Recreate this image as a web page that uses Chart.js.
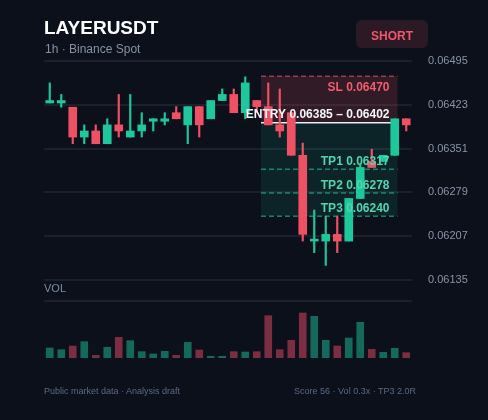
<!DOCTYPE html>
<html>
<head>
<meta charset="utf-8">
<script src="https://cdn.jsdelivr.net/npm/chart.js@4.4.1/dist/chart.umd.min.js"></script>
<style>
html,body{margin:0;padding:0;background:#0b101a;}
#wrap{position:relative;width:488px;height:420px;background:#0b101a;overflow:hidden;font-family:"Liberation Sans",Arial,sans-serif;}
#c{position:absolute;left:0;top:0;}
.t{position:absolute;white-space:nowrap;line-height:1;}
#title{left:44px;top:17.9px;font-size:19px;font-weight:bold;color:#ffffff;}
#sub{left:45px;top:42.5px;font-size:12px;color:#8691a3;}
#badge{position:absolute;left:356px;top:20px;width:72px;height:28px;border-radius:6px;background:#2b1a25;}
#badgeT{left:356px;width:72px;text-align:center;top:29.8px;font-size:12px;font-weight:bold;color:#f2566b;}
#vol{left:44px;top:283.4px;font-size:11px;color:#7f8ca3;}
#fl{left:44px;top:386.7px;font-size:9px;color:#5a6a84;}
#fr{right:72px;top:386.7px;font-size:9px;color:#5a6a84;}
</style>
</head>
<body>
<div id="wrap">
  <canvas id="c" width="488" height="420"></canvas>
  <div class="t" id="title">LAYERUSDT</div>
  <div class="t" id="sub">1h · Binance Spot</div>
  <div id="badge"></div>
  <div class="t" id="badgeT">SHORT</div>
  <div class="t" id="vol">VOL</div>
  <div class="t" id="fl">Public market data · Analysis draft</div>
  <div class="t" id="fr">Score 56 · Vol 0.3x · TP3 2.0R</div>
</div>
<script>
// ---- data ----
const LABELS = ['02:00','03:00','04:00','05:00','06:00','07:00','08:00','09:00',
  '10:00','11:00','12:00','13:00','14:00','15:00','16:00','17:00',
  '18:00','19:00','20:00','21:00','22:00','23:00','00:00','01:00',
  '02:00','03:00','04:00','05:00','06:00','07:00','08:00','09:00'];
const OPEN  = [0.06426,0.06426,0.06419,0.06370,0.06380,0.06359,0.06390,0.06370,
  0.06380,0.06396,0.06396,0.06410,0.06390,0.06420,0.06400,0.06430,
  0.06440,0.06410,0.06430,0.06420,0.06390,0.06410,0.06340,0.06199,
  0.06199,0.06210,0.06199,0.06269,0.06330,0.06330,0.06340,0.06400];
const HIGH  = [0.06459,0.06440,0.06419,0.06390,0.06390,0.06400,0.06440,0.06440,
  0.06410,0.06400,0.06410,0.06420,0.06420,0.06420,0.06430,0.06449,
  0.06449,0.06469,0.06430,0.06459,0.06449,0.06410,0.06360,0.06250,
  0.06240,0.06240,0.06269,0.06325,0.06350,0.06340,0.06400,0.06400];
const LOW   = [0.06426,0.06419,0.06359,0.06359,0.06359,0.06359,0.06370,0.06370,
  0.06370,0.06380,0.06390,0.06400,0.06359,0.06370,0.06400,0.06430,
  0.06410,0.06400,0.06410,0.06390,0.06370,0.06340,0.06199,0.06180,
  0.06159,0.06180,0.06199,0.06269,0.06320,0.06330,0.06340,0.06380];
const CLOSE = [0.06430,0.06430,0.06370,0.06380,0.06359,0.06390,0.06380,0.06380,
  0.06390,0.06400,0.06400,0.06400,0.06420,0.06390,0.06430,0.06440,
  0.06410,0.06459,0.06420,0.06390,0.06380,0.06340,0.06210,0.06201,
  0.06210,0.06199,0.06269,0.06320,0.06320,0.06340,0.06400,0.06390];
const VOLUME = [300,250,360,490,80,320,620,520,190,120,200,80,470,240,50,50,
  190,180,190,1270,250,530,1350,1250,530,360,600,1070,260,170,290,160];
const PRICE_TICKS = [0.06135,0.06207,0.06279,0.06351,0.06423,0.06495];
const PRICE_MIN = 0.06135, PRICE_MAX = 0.06495;
const VOL_MAX = 2340, VOL_GUIDE = 1710;
const SL = 0.06470;
const ENTRY_LOW = 0.06385, ENTRY_HIGH = 0.06402;
const TPS = [0.06317, 0.06278, 0.06240];
const ZONE_FROM = 18.37, ZONE_TO = 30.24;

// ---- styles ----
const GREEN = '#1fc79d', RED = '#ef5164';
const VGREEN = '#146a5a', VRED = '#7a2e42';
const GRID = '#1b202c';
const FONT = '"Liberation Sans", Arial, sans-serif';

const up = OPEN.map((o,i)=>CLOSE[i] >= o);
const candleColor = up.map(u => u ? GREEN : RED);
const volColor = up.map(u => u ? VGREEN : VRED);

const zonePlugin = {
  id: 'zones',
  beforeDatasetsDraw(chart) {
    const {ctx, scales:{x, y}} = chart;
    const x0 = x.getPixelForValue(ZONE_FROM), x1 = x.getPixelForValue(ZONE_TO);
    const ySL = y.getPixelForValue(SL);
    const yE = y.getPixelForValue((ENTRY_LOW + ENTRY_HIGH) / 2);
    const yT3 = y.getPixelForValue(TPS[2]);
    ctx.save();
    ctx.fillStyle = 'rgba(239,81,100,0.17)';
    ctx.fillRect(x0, ySL, x1 - x0, yE - ySL);
    ctx.fillStyle = 'rgba(31,199,157,0.11)';
    ctx.fillRect(x0, yE, x1 - x0, yT3 - yE);
    ctx.lineWidth = 1.5;
    ctx.setLineDash([5, 3]);
    ctx.strokeStyle = 'rgba(239,81,100,0.6)';
    ctx.beginPath(); ctx.moveTo(x0, ySL); ctx.lineTo(x1, ySL); ctx.stroke();
    ctx.strokeStyle = 'rgba(31,199,157,0.6)';
    TPS.forEach(v => {
      const yy = y.getPixelForValue(v);
      ctx.beginPath(); ctx.moveTo(x0, yy); ctx.lineTo(x1, yy); ctx.stroke();
    });
    ctx.setLineDash([]);
    ctx.strokeStyle = '#e9edf3';
    ctx.beginPath(); ctx.moveTo(x0, yE); ctx.lineTo(x1, yE); ctx.stroke();
    ctx.restore();
  },
  afterDatasetsDraw(chart) {
    const {ctx, scales:{x, y}} = chart;
    const xr = x.getPixelForValue(ZONE_TO) - 8;
    const yE = y.getPixelForValue((ENTRY_LOW + ENTRY_HIGH) / 2);
    ctx.save();
    ctx.font = 'bold 12px ' + FONT;
    ctx.textAlign = 'right';
    ctx.textBaseline = 'alphabetic';
    ctx.fillStyle = '#f25c6e';
    ctx.fillText('SL ' + SL.toFixed(5), xr, y.getPixelForValue(SL) + 15);
    ctx.fillStyle = '#f3f5f9';
    ctx.fillText('ENTRY ' + ENTRY_LOW.toFixed(5) + ' – ' + ENTRY_HIGH.toFixed(5), xr, yE - 4.5);
    ctx.fillStyle = '#4fd6ae';
    TPS.forEach((v, i) => {
      ctx.fillText('TP' + (i + 1) + ' ' + v.toFixed(5), xr, y.getPixelForValue(v) - 4.5);
    });
    ctx.restore();
  }
};

Chart.defaults.font.family = FONT;
new Chart(document.getElementById('c'), {
  type: 'bar',
  data: {
    labels: LABELS,
    datasets: [
      { label: 'body', data: OPEN.map((o,i)=>[o, CLOSE[i]]), yAxisID: 'y',
        backgroundColor: candleColor, barThickness: 8, grouped: false, minBarLength: 2, borderWidth: 0 },
      { label: 'wick', data: LOW.map((l,i)=>[l, HIGH[i]]), yAxisID: 'y',
        backgroundColor: candleColor, barThickness: 1.5, grouped: false, borderWidth: 0 },
      { label: 'volume', data: VOLUME, yAxisID: 'vol',
        backgroundColor: volColor, barThickness: 7, grouped: false, borderWidth: 0 }
    ]
  },
  options: {
    responsive: false,
    devicePixelRatio: 1,
    animation: false,
    layout: { padding: { left: 44, right: 0, top: 61, bottom: 62 } },
    plugins: { legend: { display: false }, tooltip: { enabled: false }, title: { display: false } },
    scales: {
      x: { type: 'category', display: false, offset: true, grid: { display: false } },
      y: {
        type: 'linear', position: 'right', stack: 'panes', stackWeight: 219,
        min: PRICE_MIN, max: PRICE_MAX,
        afterBuildTicks: s => { s.ticks = PRICE_TICKS.map(v => ({ value: v })); },
        afterFit: s => { s.width = 76; },
        grid: { color: GRID, lineWidth: 2, drawTicks: false },
        border: { display: false },
        ticks: { color: '#8a94a6', font: { size: 11 }, padding: 16, callback: v => v.toFixed(5) }
      },
      vol: {
        type: 'linear', position: 'right', stack: 'panes', stackWeight: 78,
        min: 0, max: VOL_MAX,
        afterBuildTicks: s => { s.ticks = [{ value: VOL_GUIDE }]; },
        afterFit: s => { s.width = 76; },
        grid: { color: GRID, lineWidth: 2, drawTicks: false },
        border: { display: false },
        ticks: { display: false }
      }
    }
  },
  plugins: [zonePlugin]
});
</script>
</body>
</html>
